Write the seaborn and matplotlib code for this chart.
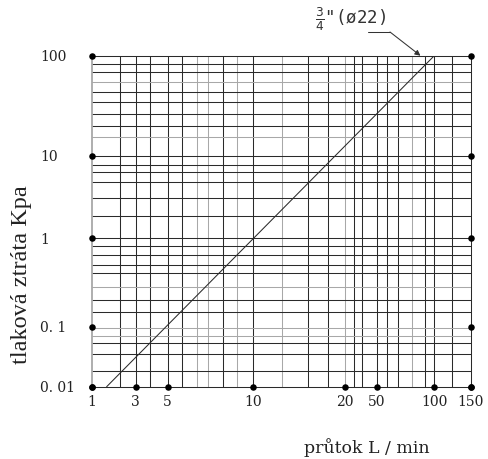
import numpy as np
import pandas as pd
import matplotlib
matplotlib.use("Agg")
import matplotlib.pyplot as plt
from matplotlib.lines import Line2D
import seaborn as sns

# nomogram tick values and labels
flow_ticks = [1, 3, 5, 10, 20, 50, 100, 150]
flow_labels = ["1", "3", "5", "10", "20", "50", "100", "150"]
loss_ticks = [0.01, 0.1, 1, 10, 100]
loss_labels = ["0. 01", "0. 1", "1", "10", "100"]

# the 3/4" (ø22) pipe line
pipe_flow = [1.68, 100]
pipe_loss = [0.01, 100]
pipe_name = '$\\frac{3}{4}$"(ø22)'

# where the drawing places each labelled value (fraction of the axis)
x_frac = np.array([0.0, 0.116, 0.2004, 0.4245, 0.6678, 0.7514, 0.9032, 1.0])
y_frac = np.array([0.0, 0.1813, 0.4483, 0.6979, 1.0])
y_logs = np.log10(loss_ticks)

# grid lines of the drawing, in pixels of the original sheet
AX_L, AX_R, AX_T, AX_B = 91.7, 471.0, 55.7, 386.7
vx_black = [120, 135.7, 150, 167.7, 181.7, 223.3, 252.7, 308.3, 328.3, 354,
            361.7, 376.7, 386.7, 398.3, 425, 434.3, 452.3]
vx_gray = [196.7, 208.3, 236.7, 281.7, 345, 411.7]
hy_black = [64, 72, 92, 102, 114, 126, 156, 165, 172, 182, 198, 216, 238,
            246, 255, 265, 273, 300, 312, 343, 354, 371]
hy_gray = [82, 137, 287, 328, 336]


def fwd_x(v):
    return np.interp(v, flow_ticks, x_frac)


def inv_x(f):
    return np.interp(f, x_frac, flow_ticks)


def fwd_y(v):
    return np.interp(np.log10(np.maximum(v, 1e-6)), y_logs, y_frac)


def inv_y(f):
    return 10 ** np.interp(f, y_frac, y_logs)


def px_x(p):
    return inv_x((np.asarray(p) - AX_L) / (AX_R - AX_L))


def px_y(p):
    return inv_y((AX_B - np.asarray(p)) / (AX_B - AX_T))


sns.set_style("white")
plt.rcParams["font.family"] = ["DejaVu Serif"]

fig = plt.figure(figsize=(4.89, 4.59), dpi=100)
ax = fig.add_axes([AX_L / 489, 1 - AX_B / 459, (AX_R - AX_L) / 489, (AX_B - AX_T) / 459])
ax.set_xscale("function", functions=(fwd_x, inv_x))
ax.set_yscale("function", functions=(fwd_y, inv_y))
ax.set_xlim(1, 150)
ax.set_ylim(0.01, 100)

BLACK = "#2a2a2a"
GRAY = "#a8a8a8"
LW = 0.75
for v in px_x(vx_black):
    ax.axvline(v, color=BLACK, lw=LW, zorder=1)
for v in px_x(vx_gray):
    ax.axvline(v, color=GRAY, lw=LW, zorder=1)
for v in px_y(hy_black):
    ax.axhline(v, color=BLACK, lw=LW, zorder=1)
for v in px_y(hy_gray):
    ax.axhline(v, color=GRAY, lw=LW, zorder=1)

df = pd.DataFrame({"flow": pipe_flow, "loss": pipe_loss})
sns.lineplot(data=df, x="flow", y="loss", color=BLACK, lw=LW, ax=ax, zorder=3)

for s in ["top", "right", "bottom"]:
    ax.spines[s].set_color(BLACK)
    ax.spines[s].set_linewidth(LW)
ax.spines["left"].set_color(GRAY)
ax.spines["left"].set_linewidth(1.3)

# dots on the axes
dot = dict(color="black", s=22, zorder=5, clip_on=False, linewidths=0)
ax.scatter(flow_ticks, [loss_ticks[0]] * len(flow_ticks), **dot)
ax.scatter([flow_ticks[0]] * len(loss_ticks), loss_ticks, **dot)
ax.scatter([flow_ticks[-1]] * len(loss_ticks), loss_ticks, **dot)

ax.set_xticks(flow_ticks)
ax.set_xticklabels(flow_labels)
ax.set_yticks(loss_ticks)
ax.set_yticklabels(loss_labels, ha="left")
ax.minorticks_off()
ax.tick_params(axis="x", length=0, pad=6, labelsize=10, colors="#222222")
ax.tick_params(axis="y", length=0, pad=37, labelsize=10, colors="#222222")

ax.set_xlabel("průtok L / min", fontsize=12.5, family="DejaVu Serif", color="#222222")
ax.xaxis.set_label_coords(0.726, -0.155)
ax.set_ylabel("tlaková ztráta Kpa", fontsize=17.5, family="Liberation Serif", color="#222222")
ax.yaxis.set_label_coords(-0.157, 0.34)

# pipe label with leader
fig.text(315, 459 - 33, pipe_name, transform=None, fontsize=12.5,
         family="DejaVu Sans Mono", color="#333333", va="bottom", ha="left")
fig.add_artist(Line2D([368, 390], [459 - 32, 459 - 32], transform=None,
                      color="#333333", lw=LW))
ax.annotate("", xy=(88, 100), xycoords="data",
            xytext=(390, 459 - 32), textcoords="figure pixels",
            arrowprops=dict(arrowstyle="-|>", color="#333333", lw=LW,
                            mutation_scale=8, shrinkA=0, shrinkB=0))

fig.savefig("out.png", dpi=100)
